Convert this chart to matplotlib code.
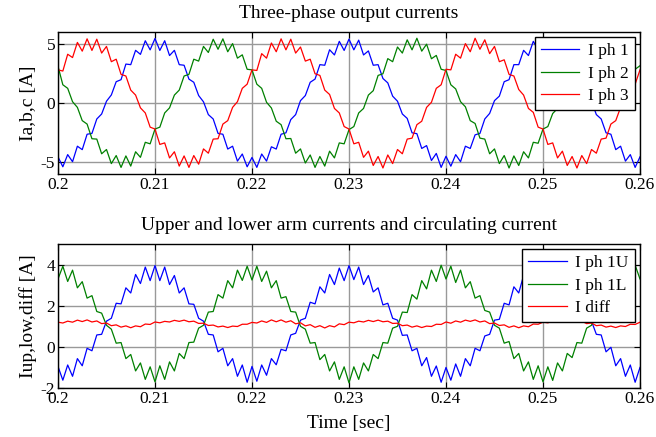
import matplotlib
matplotlib.use("Agg")
import matplotlib.pyplot as plt
import numpy as np

# sample times, 0.5 ms step
t = np.linspace(0.2, 0.26, 121)

# three-phase output currents [A]
i_ph1 = [-4.55, -5.39, -4.36, -4.96, -3.65, -3.94, -2.64, -2.57, -1.35, -0.93,
         0.15, 0.68, 1.80, 1.97, 3.29, 3.24, 4.45, 4.11, 5.26, 4.49,
         5.45, 4.44, 5.26, 4.01, 4.45, 3.24, 3.19, 2.02, 1.75, 0.63,
         0.10, -0.98, -1.35, -2.57, -2.64, -3.89, -3.65, -4.91, -4.31, -5.39,
         -4.60, -5.44, -4.31, -4.91, -3.70, -3.89, -2.64, -2.52, -1.40, -0.98,
         0.20, 0.63, 1.75, 2.02, 3.24, 3.19, 4.50, 4.06, 5.21, 4.44,
         5.40, 4.49, 5.31, 4.06, 4.40, 3.19, 3.24, 2.07, 1.70, 0.58,
         0.15, -0.93, -1.30, -2.52, -2.59, -3.84, -3.60, -4.86, -4.26, -5.44,
         -4.50, -5.34, -4.36, -4.96, -3.65, -3.84, -2.69, -2.57, -1.35, -0.88,
         0.20, 0.58, 1.80, 1.97, 3.24, 3.24, 4.45, 4.01, 5.21, 4.49,
         5.50, 4.49, 5.21, 3.96, 4.45, 3.19, 3.24, 2.02, 1.75, 0.58,
         0.15, -0.98, -1.35, -2.52, -2.64, -3.94, -3.65, -4.91, -4.36, -5.44,
         -4.55]
i_ph2 = [3.10, 1.54, 1.24, 0.11, -0.37, -1.49, -1.78, -3.02, -3.05, -4.29,
         -3.93, -5.12, -4.44, -5.44, -4.47, -5.33, -4.12, -4.59, -3.32, -3.45,
         -2.20, -2.04, -0.84, -0.41, 0.67, 1.09, 2.28, 2.42, 3.70, 3.54,
         4.78, 4.27, 5.39, 4.54, 5.42, 4.33, 5.02, 3.79, 4.07, 2.85,
         2.80, 1.59, 1.24, 0.06, -0.42, -1.54, -1.83, -3.02, -3.00, -4.24,
         -3.88, -5.07, -4.39, -5.44, -4.52, -5.33, -4.07, -4.64, -3.37, -3.45,
         -2.25, -1.99, -0.84, -0.46, 0.67, 1.04, 2.33, 2.47, 3.75, 3.49,
         4.73, 4.22, 5.34, 4.49, 5.47, 4.38, 4.97, 3.74, 4.02, 2.85,
         2.75, 1.54, 1.19, 0.11, -0.32, -1.49, -1.73, -2.97, -3.05, -4.29,
         -3.88, -5.12, -4.44, -5.49, -4.47, -5.28, -4.12, -4.64, -3.32, -3.40,
         -2.20, -1.99, -0.89, -0.46, 0.72, 1.09, 2.28, 2.42, 3.70, 3.49,
         4.78, 4.22, 5.39, 4.54, 5.42, 4.33, 4.97, 3.79, 4.07, 2.85,
         3.15]
i_ph3 = [2.80, 2.70, 4.12, 3.84, 5.12, 4.38, 5.42, 4.44, 5.39, 4.22,
         4.78, 3.49, 3.70, 2.42, 2.28, 1.09, 0.67, -0.41, -0.84, -2.04,
         -2.20, -3.50, -3.37, -4.64, -4.12, -5.33, -4.47, -5.44, -4.44, -5.17,
         -3.88, -4.24, -3.05, -3.02, -1.78, -1.49, -0.37, 0.11, 1.24, 1.59,
         2.80, 2.75, 4.17, 3.79, 5.07, 4.33, 5.42, 4.49, 5.39, 4.22,
         4.73, 3.54, 3.70, 2.47, 2.33, 1.09, 0.72, -0.46, -0.84, -1.99,
         -2.20, -3.45, -3.32, -4.59, -4.07, -5.28, -4.52, -5.49, -4.39, -5.12,
         -3.93, -4.29, -3.05, -2.97, -1.83, -1.54, -0.37, 0.06, 1.24, 1.54,
         2.85, 2.80, 4.12, 3.79, 5.02, 4.33, 5.47, 4.54, 5.34, 4.17,
         4.78, 3.49, 3.65, 2.42, 2.28, 1.14, 0.67, -0.46, -0.79, -2.04,
         -2.20, -3.50, -3.37, -4.64, -4.07, -5.28, -4.52, -5.49, -4.44, -5.12,
         -3.93, -4.24, -3.05, -2.97, -1.78, -1.49, -0.37, 0.11, 1.24, 1.59,
         2.80]

# upper / lower arm currents and circulating current [A]
i_up = [-0.95, -1.62, -0.88, -1.43, -0.57, -0.92, -0.07, -0.19, 0.58, 0.61,
        1.25, 1.39, 2.12, 2.09, 2.87, 2.62, 3.52, 3.08, 3.88, 3.22,
        3.95, 3.22, 3.88, 3.03, 3.47, 2.62, 2.87, 2.09, 2.07, 1.39,
        1.25, 0.61, 0.58, -0.24, -0.07, -0.92, -0.57, -1.43, -0.88, -1.72,
        -0.95, -1.67, -0.88, -1.38, -0.57, -0.87, -0.12, -0.19, 0.58, 0.66,
        1.30, 1.39, 2.17, 2.09, 2.92, 2.62, 3.52, 3.03, 3.83, 3.22,
        3.95, 3.27, 3.88, 3.03, 3.47, 2.67, 2.87, 2.04, 2.12, 1.39,
        1.30, 0.56, 0.58, -0.19, -0.07, -0.92, -0.52, -1.43, -0.93, -1.72,
        -1.00, -1.62, -0.83, -1.43, -0.57, -0.92, -0.07, -0.19, 0.53, 0.61,
        1.30, 1.34, 2.12, 2.04, 2.92, 2.62, 3.47, 3.03, 3.88, 3.27,
        3.95, 3.22, 3.83, 3.03, 3.47, 2.62, 2.82, 2.09, 2.12, 1.39,
        1.25, 0.61, 0.58, -0.24, -0.02, -0.92, -0.57, -1.43, -0.88, -1.72,
        -1.00]
i_low = [3.30, 3.92, 3.18, 3.73, 2.87, 3.17, 2.37, 2.49, 1.72, 1.64,
         1.05, 0.86, 0.18, 0.21, -0.57, -0.37, -1.17, -0.78, -1.58, -0.97,
         -1.70, -0.92, -1.58, -0.73, -1.17, -0.32, -0.57, 0.21, 0.23, 0.91,
         1.05, 1.69, 1.72, 2.54, 2.37, 3.22, 2.87, 3.73, 3.23, 3.92,
         3.25, 3.92, 3.18, 3.68, 2.87, 3.22, 2.37, 2.44, 1.72, 1.69,
         1.00, 0.86, 0.18, 0.21, -0.62, -0.37, -1.17, -0.73, -1.58, -0.97,
         -1.75, -0.97, -1.58, -0.78, -1.17, -0.37, -0.57, 0.21, 0.18, 0.91,
         1.00, 1.69, 1.67, 2.54, 2.32, 3.22, 2.82, 3.73, 3.18, 3.97,
         3.30, 3.92, 3.13, 3.73, 2.87, 3.17, 2.37, 2.49, 1.77, 1.69,
         1.05, 0.91, 0.18, 0.26, -0.57, -0.32, -1.17, -0.73, -1.58, -0.92,
         -1.70, -0.97, -1.63, -0.78, -1.17, -0.32, -0.52, 0.21, 0.18, 0.91,
         1.05, 1.69, 1.72, 2.54, 2.32, 3.22, 2.87, 3.73, 3.23, 3.97,
         3.30]
i_diff = [1.20, 1.16, 1.25, 1.20, 1.30, 1.23, 1.31, 1.21, 1.26, 1.13,
          1.16, 1.03, 1.07, 0.96, 1.02, 0.93, 1.02, 0.98, 1.11, 1.09,
          1.21, 1.17, 1.24, 1.21, 1.29, 1.24, 1.30, 1.22, 1.25, 1.14,
          1.15, 1.04, 1.06, 0.97, 1.01, 0.94, 1.01, 0.99, 1.10, 1.10,
          1.19, 1.16, 1.26, 1.19, 1.31, 1.22, 1.31, 1.20, 1.27, 1.12,
          1.17, 1.02, 1.08, 0.95, 1.03, 0.92, 1.03, 0.97, 1.12, 1.08,
          1.20, 1.17, 1.25, 1.21, 1.29, 1.23, 1.30, 1.22, 1.25, 1.14,
          1.15, 1.03, 1.06, 0.96, 1.02, 0.94, 1.01, 0.99, 1.10, 1.09,
          1.21, 1.15, 1.26, 1.20, 1.30, 1.24, 1.31, 1.21, 1.26, 1.13,
          1.16, 1.04, 1.07, 0.95, 1.02, 0.93, 1.02, 0.98, 1.11, 1.10,
          1.20, 1.17, 1.24, 1.20, 1.29, 1.23, 1.30, 1.21, 1.25, 1.13,
          1.16, 1.03, 1.06, 0.96, 1.01, 0.94, 1.02, 0.99, 1.10, 1.09,
          1.20]

xticks = [0.2, 0.21, 0.22, 0.23, 0.24, 0.25, 0.26]
xticklabels = ["0.2", "0.21", "0.22", "0.23", "0.24", "0.25", "0.26"]

plt.rcParams["font.family"] = ["Liberation Serif", "DejaVu Serif"]

fig = plt.figure(figsize=(6.56, 4.37), dpi=100)
ax1 = fig.add_axes([0.0884, 0.6018, 0.8872, 0.325])
ax2 = fig.add_axes([0.0884, 0.1121, 0.8872, 0.3295])

BLUE = "#0000ff"
GREEN = "#008000"
RED = "#ff0000"


def style(ax):
    ax.set_xlim(0.2, 0.26)
    ax.set_xticks(xticks)
    ax.set_xticklabels(xticklabels)
    ax.grid(True, color="0.6", linewidth=1.0)
    ax.set_axisbelow(True)
    ax.tick_params(direction="in", top=True, right=True, length=4,
                   labelsize=12.5, pad=2, width=0.8)
    for sp in ax.spines.values():
        sp.set_linewidth(1.0)


def legend(ax):
    leg = ax.legend(loc="upper right", fontsize=12.5, fancybox=False,
                    framealpha=1, edgecolor="black", borderaxespad=0.3,
                    handlelength=2.2, borderpad=0.35, labelspacing=0.35,
                    handletextpad=0.5)
    leg.get_frame().set_linewidth(1.0)


ax1.plot(t, i_ph1, color=BLUE, lw=0.9, label="I ph 1")
ax1.plot(t, i_ph2, color=GREEN, lw=0.9, label="I ph 2")
ax1.plot(t, i_ph3, color=RED, lw=0.9, label="I ph 3")
style(ax1)
ax1.set_ylim(-6, 6)
ax1.set_yticks([-5, 0, 5])
ax1.set_yticklabels(["-5", "0", "5"])
ax1.set_ylabel("Ia,b,c [A]", fontsize=14, labelpad=3)
ax1.set_title("Three-phase output currents", fontsize=14, pad=10)
legend(ax1)

ax2.plot(t, i_up, color=BLUE, lw=0.9, label="I ph 1U")
ax2.plot(t, i_low, color=GREEN, lw=0.9, label="I ph 1L")
ax2.plot(t, i_diff, color=RED, lw=0.9, label="I diff")
style(ax2)
ax2.set_ylim(-2, 5)
ax2.set_yticks([-2, 0, 2, 4])
ax2.set_yticklabels(["-2", "0", "2", "4"])
ax2.set_ylabel("Iup,low,diff [A]", fontsize=14, labelpad=3)
ax2.set_xlabel("Time [sec]", fontsize=14, labelpad=6)
ax2.set_title("Upper and lower arm currents and circulating current",
              fontsize=14, pad=10)
legend(ax2)

fig.savefig("out.png", dpi=100)
